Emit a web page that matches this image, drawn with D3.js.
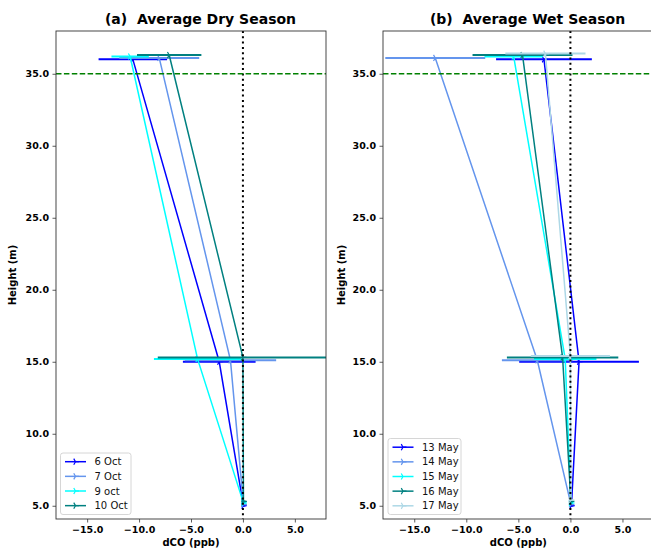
<!DOCTYPE html>
<html><head><meta charset="utf-8">
<script src="https://cdn.jsdelivr.net/npm/d3@7"></script>
<style>body{margin:0;background:#fff}svg{display:block}text{font-family:"DejaVu Sans",sans-serif;white-space:pre}</style>
</head><body>
<svg id="c" width="651" height="552"></svg>
<script>
// ---- data ----
const xTicks = [-15, -10, -5, 0, 5];
const yTicks = [5, 10, 15, 20, 25, 30, 35];
const refHeight = 35;

const dryLabels = ["6 Oct", "7 Oct", "9 oct", "10 Oct"];
const dryColors = ["#0000ff", "#6495ed", "#00ffff", "#008080"];
const dryHeights = [[5.0, 15.0, 36.0], [5.1, 15.1, 36.1], [5.2, 15.2, 36.2], [5.3, 15.3, 36.3]];
const dryValues = [[0.05, -2.28, -10.6], [0.05, -1.2, -8.06], [0.05, -4.37, -10.86], [0.05, 0.0, -7.1]];
const dryErrors = [[0.2, 3.5, 3.3], [0.2, 4.4, 3.85], [0.2, 4.2, 1.8], [0.2, 8.2, 3.1]];

const wetLabels = ["13 May", "14 May", "15 May", "16 May", "17 May"];
const wetColors = ["#0000ff", "#6495ed", "#00ffff", "#008080", "#add8e6"];
const wetHeights = [[5.0, 15.0, 36.0], [5.1, 15.1, 36.1], [5.2, 15.2, 36.2], [5.3, 15.3, 36.3], [5.4, 15.4, 36.4]];
const wetValues = [[0.1, 0.83, -2.54], [0.05, -3.18, -12.98], [0.05, -0.5, -5.45], [0.05, -0.75, -4.6], [0.05, 0.0, -2.4]];
const wetErrors = [[0.2, 5.75, 4.6], [0.2, 3.4, 4.8], [0.2, 3.0, 2.8], [0.2, 5.35, 4.8], [0.2, 3.8, 3.85]];

const svg = d3.select("#c");
const fmt = d3.format(".1f");
const minus = s => s.replace("-", "\u2212");

function panel(opt) {
  const {left, right, top, bottom, title, titleX, ylabX, labels, colors, heights, values, errors, legend, id} = opt;
  const x = d3.scaleLinear().domain([-18, 8]).range([left, right]);
  const y = d3.scaleLinear().domain([4.08, 37.97]).range([bottom, top]);
  const g = svg.append("g");
  g.append("clipPath").attr("id", id).append("rect")
    .attr("x", left).attr("y", top).attr("width", right - left).attr("height", bottom - top);
  const plot = g.append("g").attr("clip-path", `url(#${id})`);

  labels.forEach((lab, i) => {
    const pts = heights[i].map((h, k) => ({h, v: values[i][k], e: errors[i][k]}));
    plot.selectAll(null).data(pts).enter().append("line")
      .attr("x1", d => x(d.v - d.e)).attr("x2", d => x(d.v + d.e))
      .attr("y1", d => y(d.h)).attr("y2", d => y(d.h))
      .attr("stroke", colors[i]).attr("stroke-width", 2);
    plot.append("path").datum(pts)
      .attr("d", d3.line().x(d => x(d.v)).y(d => y(d.h)))
      .attr("fill", "none").attr("stroke", colors[i]).attr("stroke-width", 1.5);
    plot.selectAll(null).data(pts).enter().append("path")
      .attr("transform", d => `translate(${x(d.v)},${y(d.h)})`)
      .attr("d", "M0,0L3.5,0M0,0L-1.75,-3.03M0,0L-1.75,3.03")
      .attr("stroke", colors[i]).attr("stroke-width", 1.2).attr("fill", "none");
  });

  // reference lines
  plot.append("line").attr("x1", x(0)).attr("x2", x(0)).attr("y1", top).attr("y2", bottom)
    .attr("stroke", "#000").attr("stroke-width", 2).attr("stroke-dasharray", "2,3.3");
  plot.append("line").attr("x1", left).attr("x2", right).attr("y1", y(refHeight)).attr("y2", y(refHeight))
    .attr("stroke", "#008000").attr("stroke-width", 1.5).attr("stroke-dasharray", "5.5,2.4");

  // axes
  const xa = g.append("g").attr("transform", `translate(0,${bottom})`)
    .call(d3.axisBottom(x).tickValues(xTicks).tickFormat(d => minus(fmt(d))).tickSize(3.5).tickPadding(3.5));
  const ya = g.append("g").attr("transform", `translate(${left},0)`)
    .call(d3.axisLeft(y).tickValues(yTicks).tickFormat(d => fmt(d)).tickSize(3.5).tickPadding(3.5));
  [xa, ya].forEach(a => {
    a.select(".domain").remove();
    a.selectAll("line").attr("stroke", "#333").attr("stroke-width", 0.8);
    a.selectAll("text").attr("font-family", "DejaVu Sans").attr("font-size", 9.5).attr("font-weight", "bold").attr("fill", "#000");
  });
  g.append("rect").attr("x", left).attr("y", top).attr("width", right - left).attr("height", bottom - top)
    .attr("fill", "none").attr("stroke", "#333").attr("stroke-width", 0.9);

  g.append("text").attr("x", titleX).attr("y", 24).attr("text-anchor", "middle")
    .attr("font-size", 14).attr("font-weight", "bold").text(title);
  g.append("text").attr("x", (left + right) / 2).attr("y", 546).attr("text-anchor", "middle")
    .attr("font-size", 10).attr("font-weight", "bold").text("dCO (ppb)");
  g.append("text").attr("transform", `translate(${ylabX},${(top + bottom) / 2}) rotate(-90)`)
    .attr("text-anchor", "middle").attr("font-size", 10).attr("font-weight", "bold").text("Height (m)");

  // legend
  const lg = g.append("g");
  lg.append("rect").attr("x", legend.x).attr("y", legend.y).attr("width", legend.w).attr("height", legend.h)
    .attr("rx", 2.5).attr("fill", "#fff").attr("fill-opacity", 0.8).attr("stroke", "#ccc").attr("stroke-width", 0.8);
  labels.forEach((lab, i) => {
    const cy = legend.y + 8.7 + i * 14.65;
    const hx = legend.x + 4.5;
    lg.append("line").attr("x1", hx).attr("x2", hx + 21).attr("y1", cy).attr("y2", cy)
      .attr("stroke", colors[i]).attr("stroke-width", 1.5);
    lg.append("path").attr("transform", `translate(${hx + 10.5},${cy})`)
      .attr("d", "M0,0L3.5,0M0,0L-1.75,-3.03M0,0L-1.75,3.03")
      .attr("stroke", colors[i]).attr("stroke-width", 1.2).attr("fill", "none");
    lg.append("text").attr("x", hx + 29.5).attr("y", cy + 3.6).attr("font-size", 10).attr("fill", "#111").text(lab);
  });
}

panel({id: "cpa", left: 56, right: 326, top: 31, bottom: 519, title: "(a)  Average Dry Season", titleX: 200.5, ylabX: 16,
  labels: dryLabels, colors: dryColors, heights: dryHeights, values: dryValues, errors: dryErrors,
  legend: {x: 60.5, y: 453, w: 70.5, h: 61.5}});
panel({id: "cpb", left: 383, right: 653.7, top: 31, bottom: 519, title: "(b)  Average Wet Season", titleX: 527.5, ylabX: 345,
  labels: wetLabels, colors: wetColors, heights: wetHeights, values: wetValues, errors: wetErrors,
  legend: {x: 388, y: 438.5, w: 73, h: 76}});
</script>
</body></html>
